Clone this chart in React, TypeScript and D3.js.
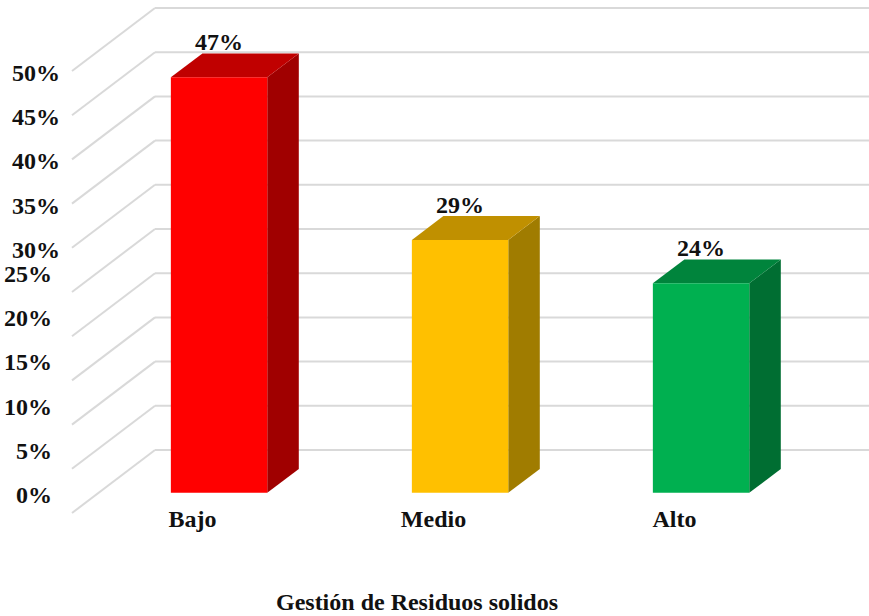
import React from "react";
import * as d3 from "d3";

const categories = ["Bajo", "Medio", "Alto"];
const values = [47, 28.6, 23.7];
const valueLabels = ["47%", "29%", "24%"];
const frontColors = ["#FF0000", "#FFC000", "#00B050"];
const topColors = ["#C00000", "#C09000", "#00843C"];
const sideColors = ["#A00000", "#A07C00", "#006E32"];
const ticks = [0, 5, 10, 15, 20, 25, 30, 35, 40, 45, 50];
const axisTitle = "Gestión de Residuos solidos";

const W = 869;
const H = 616;
const FONT = "'Liberation Serif', 'Times New Roman', serif";
const FS = 24;

export default function App() {
  const x0 = 72;
  const dX = 83;
  const dY = -63;
  const y = d3.scaleLinear().domain([0, 50]).range([513, 513 - 50 * 8.84]);
  const dFront = 0.32;
  const dBack = 0.7;
  const xFrontBar = x0 + dFront * dX;
  const xb = d3
    .scaleBand<string>()
    .domain(categories)
    .range([xFrontBar, xFrontBar + 723])
    .paddingInner(0.6)
    .paddingOuter(0.3);
  const bw = xb.bandwidth();
  const ox = (dBack - dFront) * dX;
  const oy = (dBack - dFront) * dY;

  return (
    <svg
      width={W}
      height={H}
      style={{ position: "absolute", left: 0, top: 0, background: "#fff" }}
    >
      {ticks.map((t) => {
        const fy = y(t);
        return (
          <g key={t}>
            <line x1={x0} y1={fy} x2={x0 + dX} y2={fy + dY} stroke="#d9d9d9" strokeWidth={2} />
            <line x1={x0 + dX} y1={fy + dY} x2={W} y2={fy + dY} stroke="#d9d9d9" strokeWidth={2} />
          </g>
        );
      })}
      {ticks.map((t) => {
        const low = t < 30;
        return (
          <text
            key={"l" + t}
            x={low ? 52 : 60}
            y={y(t) + (low ? -18 : 2)}
            textAnchor="end"
            dominantBaseline="central"
            fontFamily={FONT}
            fontWeight="bold"
            fontSize={FS}
            fill="#111"
          >
            {t}%
          </text>
        );
      })}
      {categories.map((c, i) => {
        const left = xb(c)!;
        const right = left + bw;
        const baseY = y(0) + dFront * dY;
        const topY = y(values[i]) + dFront * dY;
        const front = `M${left},${baseY}L${right},${baseY}L${right},${topY}L${left},${topY}Z`;
        const top = `M${left},${topY}L${right},${topY}L${right + ox},${topY + oy}L${left + ox},${topY + oy}Z`;
        const side = `M${right},${baseY}L${right + ox},${baseY + oy}L${right + ox},${topY + oy}L${right},${topY}Z`;
        return (
          <g key={c}>
            <path d={side} fill={sideColors[i]} />
            <path d={top} fill={topColors[i]} />
            <path d={front} fill={frontColors[i]} />
            <text
              x={left + bw / 2}
              y={topY + oy - 3}
              textAnchor="middle"
              fontFamily={FONT}
              fontWeight="bold"
              fontSize={FS}
              fill="#111"
            >
              {valueLabels[i]}
            </text>
            <text
              x={left + bw / 2 - dFront * dX}
              y={527}
              textAnchor="middle"
              fontFamily={FONT}
              fontWeight="bold"
              fontSize={FS}
              fill="#111"
            >
              {c}
            </text>
          </g>
        );
      })}
      <text
        x={417}
        y={610}
        textAnchor="middle"
        fontFamily={FONT}
        fontWeight="bold"
        fontSize={FS}
        fill="#111"
      >
        {axisTitle}
      </text>
    </svg>
  );
}
